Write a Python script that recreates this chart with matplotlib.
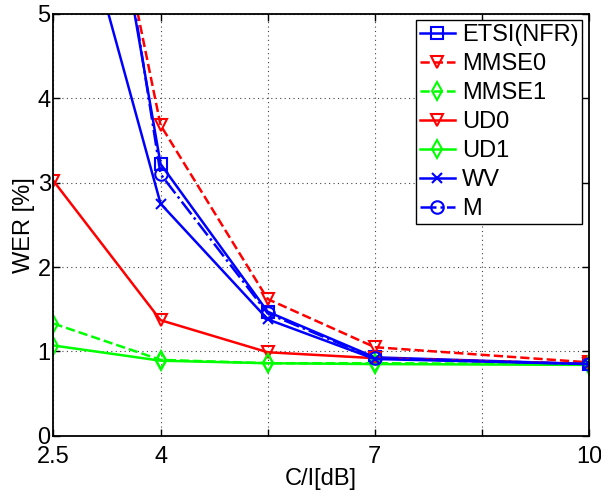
import numpy as np
from matplotlib import pyplot as plt

plt.rcParams['font.family'] = ['Liberation Sans', 'DejaVu Sans']

# C/I 值 (dB)
ci = [2.5, 4, 5.5, 7, 10]

# 各方法的 WER (%)
etsi = [10.55, 3.22, 1.47, 0.93, 0.85]
mmse0 = [9.9, 3.68, 1.62, 1.05, 0.87]
mmse1 = [1.33, 0.90, 0.86, 0.86, 0.85]
ud0 = [3.02, 1.37, 0.99, 0.92, 0.85]
ud1 = [1.07, 0.89, 0.86, 0.85, 0.84]
wv = [7.37, 2.75, 1.38, 0.91, 0.85]
m = [11.2, 3.10, 1.45, 0.92, 0.85]

xticks = [2.5, 4, 5.5, 7, 8.5, 10]
xticklabels = ['2.5', '4', '', '7', '', '10']

blue = '#0000ff'
red = '#ff0000'
green = '#00ff00'

fig = plt.figure(figsize=(6.01, 4.93), dpi=100)
ax = fig.add_axes([0.089, 0.116, 0.891, 0.856])

lw = 1.8
ms = 9
mew = 1.5
ax.plot(ci, etsi, '-', color=blue, marker='s', mfc='none', ms=ms, mew=mew, lw=lw, label='ETSI(NFR)')
ax.plot(ci, mmse0, '--', color=red, marker='v', mfc='none', ms=ms, mew=mew, lw=lw, label='MMSE0')
ax.plot(ci, mmse1, '--', color=green, marker='d', mfc='none', ms=ms, mew=mew, lw=lw, label='MMSE1')
ax.plot(ci, ud0, '-', color=red, marker='v', mfc='none', ms=ms, mew=mew, lw=lw, label='UD0')
ax.plot(ci, ud1, '-', color=green, marker='d', mfc='none', ms=ms, mew=mew, lw=lw, label='UD1')
ax.plot(ci, wv, '-', color=blue, marker='x', ms=7, mew=mew, lw=lw, label='WV')
ax.plot(ci, m, '-.', color=blue, marker='o', mfc='none', ms=ms, mew=mew, lw=lw, label='M')

ax.set_xlim(2.5, 10)
ax.set_ylim(0, 5)
ax.set_xticks(xticks)
ax.set_xticklabels(xticklabels)
ax.set_yticks([0, 1, 2, 3, 4, 5])
ax.tick_params(direction='in', top=True, right=True, labelsize=17, length=5, width=1, pad=2)
ax.tick_params(axis='x', pad=7)
ax.grid(True, linestyle=(0, (1, 3)), color='#444444', linewidth=0.8)
for s in ax.spines.values():
    s.set_linewidth(1.3)

ax.set_xlabel('C/I[dB]', fontsize=17, labelpad=0)
ax.set_ylabel('WER [%]', fontsize=17, labelpad=2)

leg = ax.legend(loc='upper right', fontsize=17, fancybox=False, framealpha=1,
                edgecolor='black', borderpad=0.15, labelspacing=0.3,
                handlelength=1.5, handletextpad=0.3, borderaxespad=0.28)
leg.get_frame().set_linewidth(1.0)

plt.savefig('out.png', dpi=100)
